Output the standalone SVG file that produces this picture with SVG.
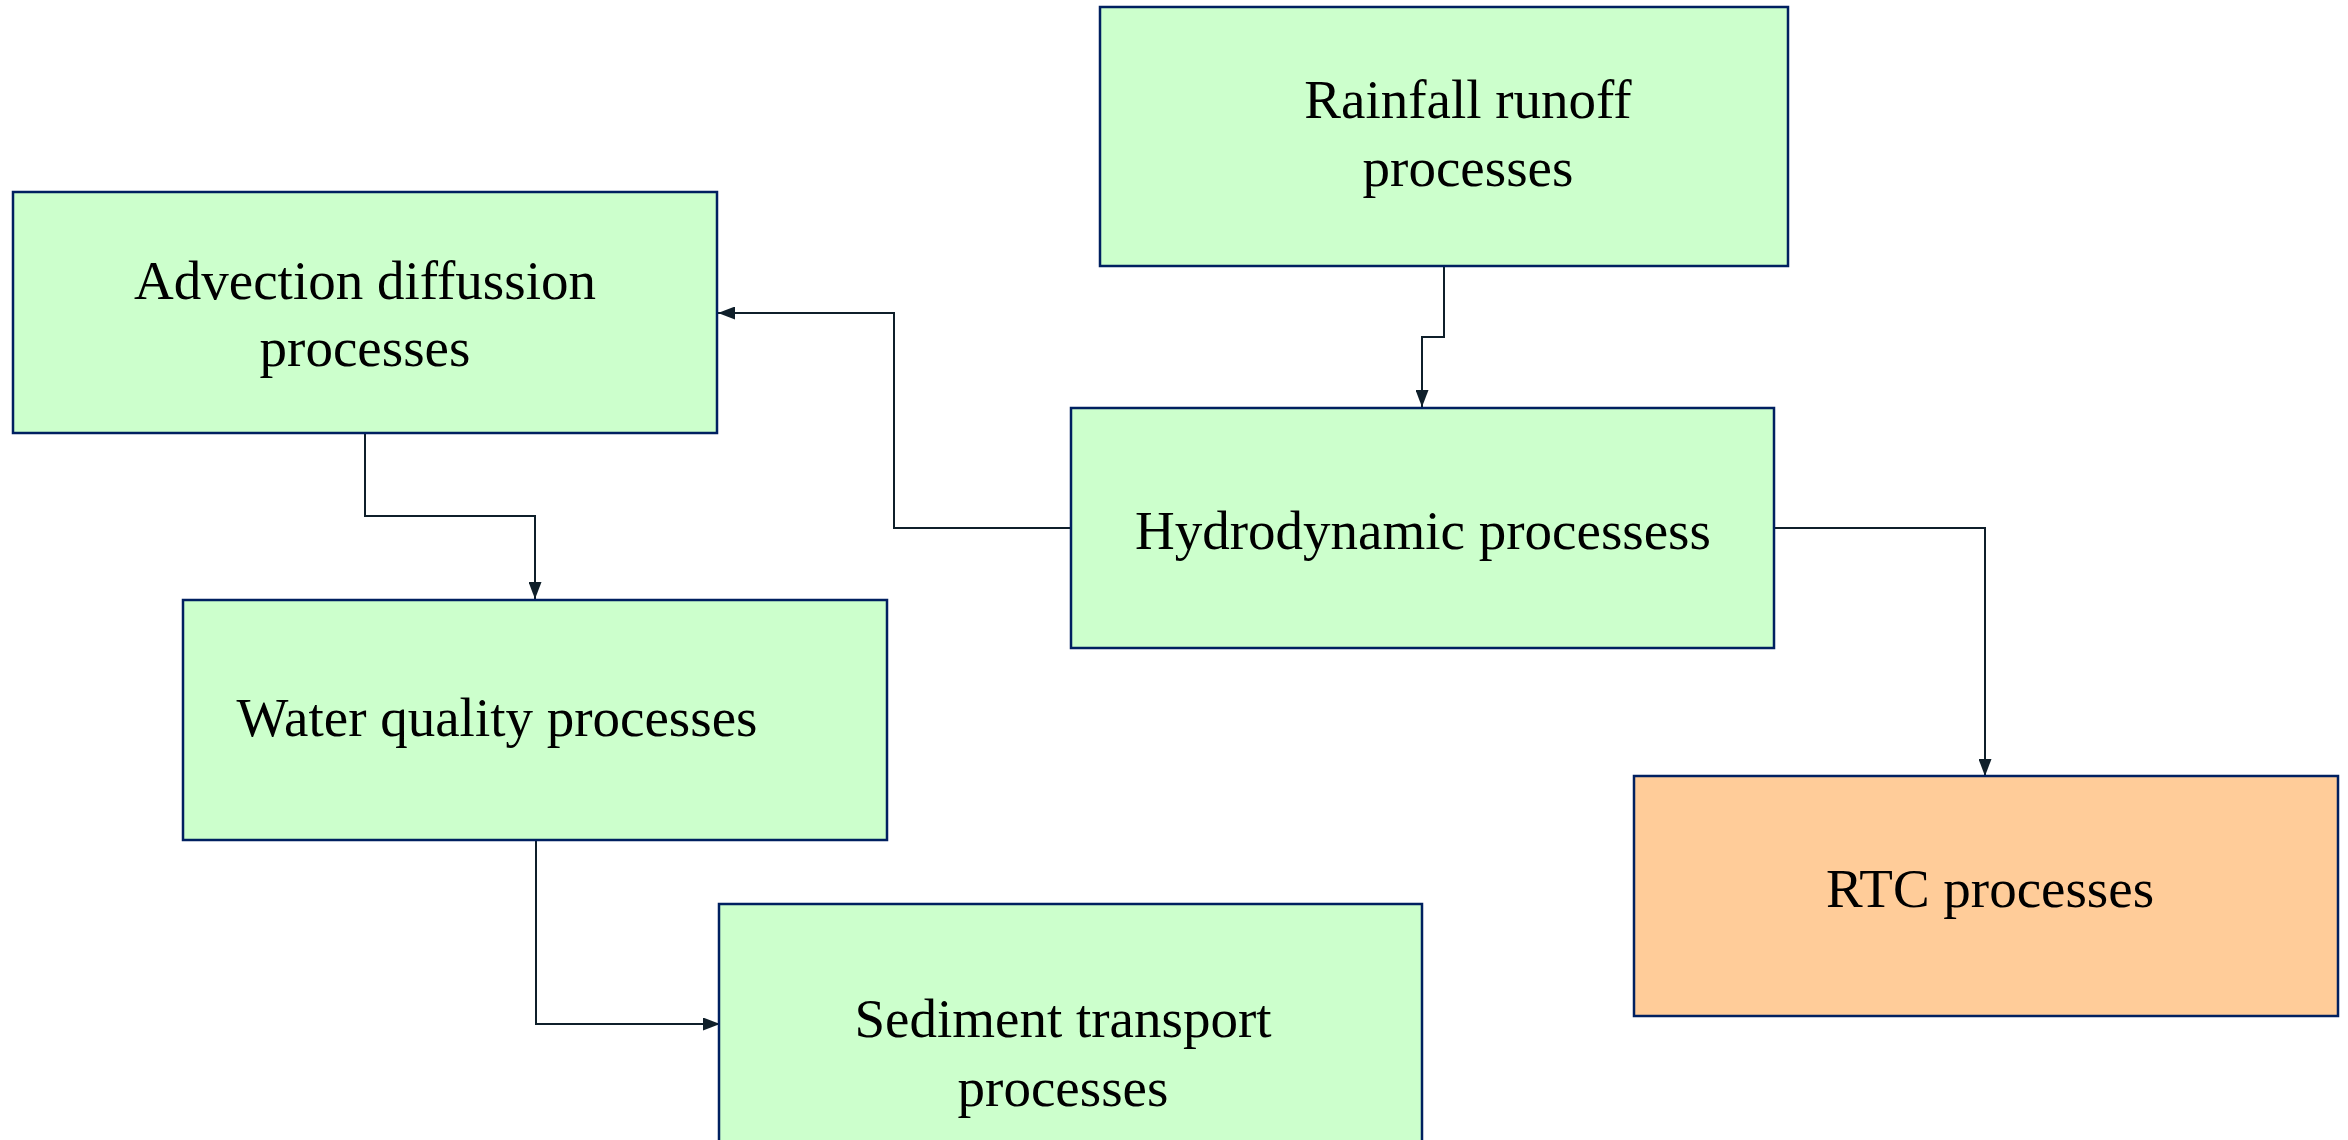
<svg xmlns="http://www.w3.org/2000/svg" width="2348" height="1140" viewBox="0 0 2348 1140">
<style>
.box{fill:#CCFFCC;stroke:#002060;stroke-width:2.5}
.rtc{fill:#FFCC99;stroke:#002060;stroke-width:2.5}
.lbl{font-family:"Liberation Serif","Times New Roman",serif;font-size:55px;fill:#000;text-anchor:middle}
.con{fill:none;stroke:#0F1F2A;stroke-width:2}
</style>
<defs>
<marker id="arr" viewBox="0 0 17 13" refX="17" refY="6.5" markerWidth="17" markerHeight="13" markerUnits="userSpaceOnUse" orient="auto">
<path d="M0,0 L17,6.5 L0,13 Z" fill="#0F1F2A"/>
</marker>
</defs>
<rect width="2348" height="1140" fill="#fff"/>
<g id="connectors">
<path class="con" d="M1444 266 V337 H1422 V407" marker-end="url(#arr)"/>
<path class="con" d="M1071 528 H894 V313 H718" marker-end="url(#arr)"/>
<path class="con" d="M365 433 V516 H535 V599" marker-end="url(#arr)"/>
<path class="con" d="M536 840 V1024 H720" marker-end="url(#arr)"/>
<path class="con" d="M1774 528 H1985 V776" marker-end="url(#arr)"/>
</g>
<g id="rainfall">
<rect class="box" x="1100" y="7" width="688" height="259"/>
<text class="lbl" x="1468" y="118">Rainfall runoff</text>
<text class="lbl" x="1468" y="186">processes</text>
</g>
<g id="advection">
<rect class="box" x="13" y="192" width="704" height="241"/>
<text class="lbl" x="365" y="299">Advection diffussion</text>
<text class="lbl" x="365" y="366">processes</text>
</g>
<g id="hydrodynamic">
<rect class="box" x="1071" y="408" width="703" height="240"/>
<text class="lbl" x="1423" y="549">Hydrodynamic processess</text>
</g>
<g id="waterquality">
<rect class="box" x="183" y="600" width="704" height="240"/>
<text class="lbl" x="497" y="736">Water quality processes</text>
</g>
<g id="rtc">
<rect class="rtc" x="1634" y="776" width="704" height="240"/>
<text class="lbl" x="1990" y="907">RTC processes</text>
</g>
<g id="sediment">
<rect class="box" x="719" y="904" width="703" height="260"/>
<text class="lbl" x="1063" y="1037">Sediment transport</text>
<text class="lbl" x="1063" y="1106">processes</text>
</g>
</svg>
